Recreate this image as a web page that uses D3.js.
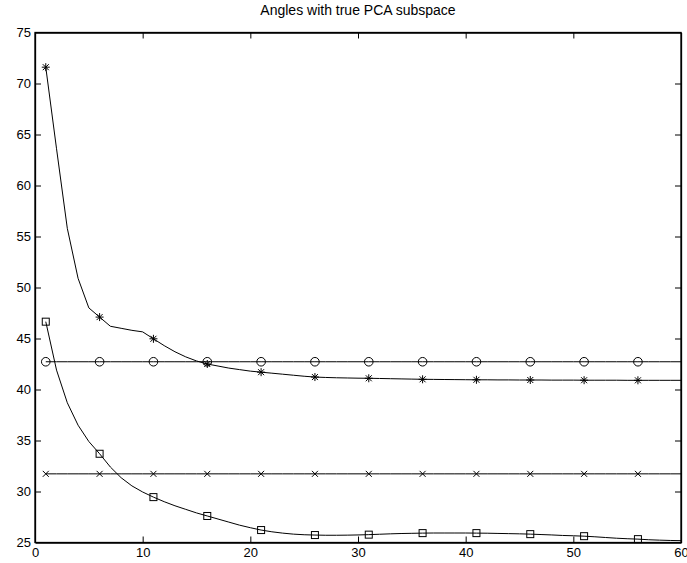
<!DOCTYPE html>
<html>
<head>
<meta charset="utf-8">
<script src="https://cdn.jsdelivr.net/npm/d3@7"></script>
<style>
  body { margin: 0; background: #fff; }
  svg { display: block; }
  text { font-family: Arial, "Liberation Sans", Helvetica, sans-serif; }
</style>
</head>
<body>
<svg id="chart" width="687" height="563"></svg>
<script>
// ---- data ----
const title = "Angles with true PCA subspace";
const xValues = d3.range(1, 61); // sample positions 1..60
const markerX = [1, 6, 11, 16, 21, 26, 31, 36, 41, 46, 51, 56];
const xTicks = [0, 10, 20, 30, 40, 50, 60];
const yTicks = [25, 30, 35, 40, 45, 50, 55, 60, 65, 70, 75];

const starSeries = [
  71.6, 63.6, 55.8, 50.9, 48.0, 47.1, 46.2, 46.0, 45.8, 45.65,
  44.97, 44.3, 43.7, 43.2, 42.8, 42.5, 42.3, 42.1, 41.95, 41.8,
  41.7, 41.6, 41.5, 41.4, 41.3, 41.22, 41.18, 41.15, 41.13, 41.11,
  41.1, 41.08, 41.06, 41.04, 41.02, 41.0, 40.99, 40.98, 40.97, 40.96,
  40.95, 40.95, 40.94, 40.94, 40.93, 40.93, 40.93, 40.92, 40.92, 40.92,
  40.91, 40.91, 40.91, 40.91, 40.9, 40.9, 40.9, 40.9, 40.9, 40.9
];
const squareSeries = [
  46.65, 41.9, 38.7, 36.5, 34.9, 33.7, 32.4, 31.35, 30.55, 29.95,
  29.45, 29.0, 28.6, 28.25, 27.9, 27.6, 27.3, 27.0, 26.7, 26.45,
  26.22, 26.05, 25.92, 25.82, 25.76, 25.73, 25.71, 25.71, 25.72, 25.74,
  25.77, 25.81, 25.85, 25.88, 25.9, 25.92, 25.93, 25.93, 25.93, 25.93,
  25.92, 25.91, 25.89, 25.87, 25.85, 25.82, 25.78, 25.74, 25.69, 25.66,
  25.62, 25.56, 25.49, 25.42, 25.37, 25.33, 25.27, 25.23, 25.2, 25.18
];
const circleSeries = [
  42.72, 42.72, 42.72, 42.72, 42.72, 42.72, 42.72, 42.72, 42.72, 42.72,
  42.72, 42.72, 42.72, 42.72, 42.72, 42.72, 42.72, 42.72, 42.72, 42.72,
  42.72, 42.72, 42.72, 42.72, 42.72, 42.72, 42.72, 42.72, 42.72, 42.72,
  42.72, 42.72, 42.72, 42.72, 42.72, 42.72, 42.72, 42.72, 42.72, 42.72,
  42.72, 42.72, 42.72, 42.72, 42.72, 42.72, 42.72, 42.72, 42.72, 42.72,
  42.72, 42.72, 42.72, 42.72, 42.72, 42.72, 42.72, 42.72, 42.72, 42.72
];
const crossSeries = [
  31.73, 31.73, 31.73, 31.73, 31.73, 31.73, 31.73, 31.73, 31.73, 31.73,
  31.73, 31.73, 31.73, 31.73, 31.73, 31.73, 31.73, 31.73, 31.73, 31.73,
  31.73, 31.73, 31.73, 31.73, 31.73, 31.73, 31.73, 31.73, 31.73, 31.73,
  31.73, 31.73, 31.73, 31.73, 31.73, 31.73, 31.73, 31.73, 31.73, 31.73,
  31.73, 31.73, 31.73, 31.73, 31.73, 31.73, 31.73, 31.73, 31.73, 31.73,
  31.73, 31.73, 31.73, 31.73, 31.73, 31.73, 31.73, 31.73, 31.73, 31.73
];

// ---- layout ----
const svg = d3.select("#chart");
const pLeft = 35, pRight = 681, pTop = 32.5, pBottom = 542.5;
const x = d3.scaleLinear().domain([0, 60]).range([pLeft, pRight]);
const y = d3.scaleLinear().domain([25, 75]).range([pBottom, pTop]);

const tickFont = 13;
const titleFont = 14;

// title
svg.append("text")
  .attr("x", (pLeft + pRight) / 2)
  .attr("y", 14.5)
  .attr("text-anchor", "middle")
  .attr("font-size", titleFont)
  .text(title);

// axes (ticks point inward, MATLAB style)
const tick = 6;
const gB = svg.append("g").attr("transform", `translate(0,${pBottom})`)
  .call(d3.axisBottom(x).tickValues(xTicks).tickSizeInner(-tick).tickSizeOuter(0).tickPadding(5));
const gT = svg.append("g").attr("transform", `translate(0,${pTop})`)
  .call(d3.axisTop(x).tickValues(xTicks).tickSizeInner(-tick).tickSizeOuter(0).tickFormat(""));
const gL = svg.append("g").attr("transform", `translate(${pLeft},0)`)
  .call(d3.axisLeft(y).tickValues(yTicks).tickSizeInner(-tick).tickSizeOuter(0).tickPadding(4));
const gR = svg.append("g").attr("transform", `translate(${pRight},0)`)
  .call(d3.axisRight(y).tickValues(yTicks).tickSizeInner(-tick).tickSizeOuter(0).tickFormat(""));

[gB, gT, gL, gR].forEach(g => {
  g.selectAll("text").attr("font-size", tickFont).attr("fill", "#000")
    .attr("font-family", "Arial, 'Liberation Sans', Helvetica, sans-serif");
  g.selectAll("line").attr("stroke", "#000");
  g.select(".domain").attr("stroke", "#000").attr("stroke-width", 1.3);
});
gB.selectAll(".tick line").filter(d => d === 0 || d === 60).remove();
gT.selectAll(".tick line").filter(d => d === 0 || d === 60).remove();
gL.selectAll(".tick line").filter(d => d === 25 || d === 75).remove();
gR.selectAll(".tick line").filter(d => d === 25 || d === 75).remove();

// ---- series ----
const line = d3.line().x(d => x(d[0])).y(d => y(d[1]));
const plot = svg.append("g");

function drawSeries(values, markerFn) {
  const pts = xValues.map((xv, i) => [xv, values[i]]);
  plot.append("path").datum(pts).attr("d", line)
    .attr("fill", "none").attr("stroke", "#000").attr("stroke-width", 1);
  const mk = pts.filter(p => markerX.includes(p[0]));
  mk.forEach(p => markerFn(plot, x(p[0]), y(p[1])));
}

function circleMarker(g, cx, cy) {
  g.append("circle").attr("cx", cx).attr("cy", cy).attr("r", 4.3)
    .attr("fill", "none").attr("stroke", "#000").attr("stroke-width", 1);
}
function squareMarker(g, cx, cy) {
  const s = 7;
  g.append("rect").attr("x", cx - s / 2).attr("y", cy - s / 2)
    .attr("width", s).attr("height", s)
    .attr("fill", "none").attr("stroke", "#000").attr("stroke-width", 1);
}
function crossMarker(g, cx, cy) {
  const h = 3;
  g.append("path")
    .attr("d", `M${cx - h},${cy - h}L${cx + h},${cy + h}M${cx - h},${cy + h}L${cx + h},${cy - h}`)
    .attr("stroke", "#000").attr("stroke-width", 1).attr("fill", "none");
}
function starMarker(g, cx, cy) {
  const h = 4, d = 3;
  g.append("path")
    .attr("d", `M${cx},${cy - h}L${cx},${cy + h}M${cx - h},${cy}L${cx + h},${cy}` +
      `M${cx - d},${cy - d}L${cx + d},${cy + d}M${cx - d},${cy + d}L${cx + d},${cy - d}`)
    .attr("stroke", "#000").attr("stroke-width", 1).attr("fill", "none");
}

drawSeries(circleSeries, circleMarker);
drawSeries(crossSeries, crossMarker);
drawSeries(starSeries, starMarker);
drawSeries(squareSeries, squareMarker);

// frame
svg.append("rect").attr("x", pLeft).attr("y", pTop)
  .attr("width", pRight - pLeft).attr("height", pBottom - pTop)
  .attr("fill", "none").attr("stroke", "#000").attr("stroke-width", 1.3);
</script>
</body>
</html>
